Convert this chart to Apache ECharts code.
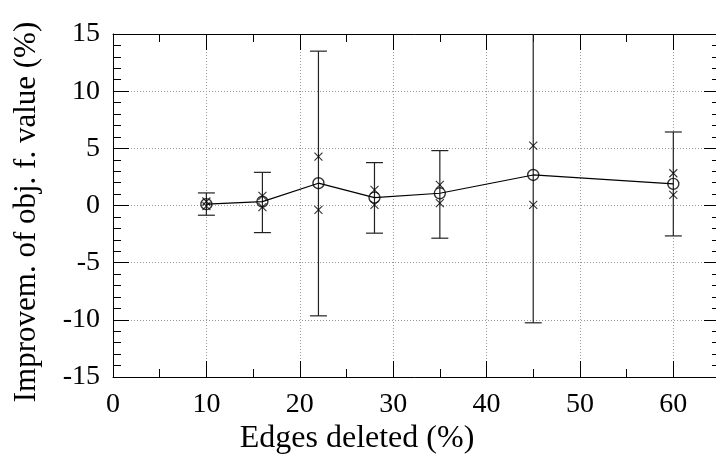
<!DOCTYPE html>
<html><head><meta charset="utf-8">
<script src="https://cdn.jsdelivr.net/npm/echarts@6/dist/echarts.min.js"></script>
<style>html,body{margin:0;padding:0;background:#fff}#c{width:716px;height:463px}</style>
</head><body><div id="c"></div>
<script>
const xs = [10, 16, 22, 28, 35, 45, 60];
const meanVals = [0.12, 0.34, 1.95, 0.69, 1.07, 2.67, 1.89];
const upperCross = [0.35, 0.84, 4.27, 1.36, 1.8, 5.24, 2.82];
const lowerCross = [-0.05, -0.15, -0.38, 0.05, 0.2, 0.05, 0.93];
const errLow = [-0.85, -2.37, -9.65, -2.42, -2.86, -10.26, -2.66];
const errHigh = [1.1, 2.9, 13.5, 3.75, 4.8, 15.5, 6.43];
const xTitle = 'Edges deleted (%)';
const yTitle = 'Improvem. of obj. f. value (%)';

const FONT = 'Liberation Serif';
const chart = echarts.init(document.getElementById('c'), null, {renderer: 'canvas'});

function axisBase(extra) {
  return Object.assign({
    type: 'value',
    axisLine: {show: true, onZero: false, lineStyle: {color: '#000', width: 1}},
    axisTick: {show: true, inside: true, length: 16, lineStyle: {color: '#000'}},
    splitLine: {show: false}
  }, extra);
}

const option = {
  animation: false,
  backgroundColor: '#fff',
  grid: {left: 113, top: 34, width: 607, bottom: 86, containLabel: false, outerBoundsMode: 'none'},
  xAxis: [
    axisBase({
      position: 'bottom', min: 0, max: 65, interval: 10,
      minorTick: {show: true, splitNumber: 2, length: 8, lineStyle: {color: '#000'}},
      axisLabel: {show: true, margin: 14, color: '#000', fontFamily: FONT, fontSize: 28, showMaxLabel: false,
        formatter: v => (v > 60 ? '' : String(v))},
      splitLine: {show: true, lineStyle: {color: '#999', type: [1, 2], width: 1}}
    }),
    axisBase({
      position: 'top', min: 0, max: 65, interval: 10,
      minorTick: {show: true, splitNumber: 2, length: 8, lineStyle: {color: '#000'}},
      axisLabel: {show: false}
    })
  ],
  yAxis: [
    axisBase({
      position: 'left', min: -15, max: 15, interval: 5,
      minorTick: {show: true, splitNumber: 5, length: 8, lineStyle: {color: '#000'}},
      axisLabel: {show: true, margin: 13, color: '#000', fontFamily: FONT, fontSize: 28},
      splitLine: {show: true, lineStyle: {color: '#999', type: [1, 2], width: 1}}
    }),
    axisBase({
      position: 'right', min: -15, max: 15, interval: 5,
      minorTick: {show: true, splitNumber: 5, length: 8, lineStyle: {color: '#000'}},
      axisLabel: {show: false}
    })
  ],
  graphic: [{
    type: 'text', x: 357, y: 439,
    style: {text: xTitle, fill: '#000', font: '32px "' + FONT + '"', align: 'center', verticalAlign: 'middle'}
  }, {
    type: 'text', x: 27, y: 212, rotation: Math.PI / 2,
    style: {text: yTitle, fill: '#000', font: '31px "' + FONT + '"', align: 'center', verticalAlign: 'middle'}
  }],
  series: [
    {
      type: 'custom', xAxisIndex: 0, yAxisIndex: 0, clip: true, z: 2,
      data: xs.map((x, i) => [x, errLow[i], errHigh[i]]),
      renderItem: function (params, api) {
        const x = api.value(0);
        const p1 = api.coord([x, api.value(1)]);
        const p2 = api.coord([x, api.value(2)]);
        const w = 8.5;
        const st = {stroke: '#222', lineWidth: 1.2};
        return {type: 'group', children: [
          {type: 'line', shape: {x1: p1[0], y1: p1[1], x2: p2[0], y2: p2[1]}, style: st},
          {type: 'line', shape: {x1: p1[0] - w, y1: p1[1], x2: p1[0] + w, y2: p1[1]}, style: st},
          {type: 'line', shape: {x1: p2[0] - w, y1: p2[1], x2: p2[0] + w, y2: p2[1]}, style: st}
        ]};
      }
    },
    {
      type: 'line', xAxisIndex: 0, yAxisIndex: 0, z: 3,
      data: xs.map((x, i) => [x, meanVals[i]]),
      symbol: 'none', lineStyle: {color: '#000', width: 1.2}
    },
    {
      type: 'scatter', xAxisIndex: 0, yAxisIndex: 0, z: 4,
      data: xs.map((x, i) => [x, meanVals[i]]),
      symbol: 'circle', symbolSize: 11,
      itemStyle: {color: 'rgba(0,0,0,0)', borderColor: '#000', borderWidth: 1.4}
    },
    {
      type: 'scatter', xAxisIndex: 0, yAxisIndex: 0, z: 4,
      data: xs.map((x, i) => [x, upperCross[i]]).concat(xs.map((x, i) => [x, lowerCross[i]])),
      symbol: 'path://M0,0L10,10M10,0L0,10', symbolSize: 8,
      itemStyle: {color: 'rgba(0,0,0,0)', borderColor: '#000', borderWidth: 1.1}
    }
  ]
};
chart.setOption(option);
</script></body></html>
